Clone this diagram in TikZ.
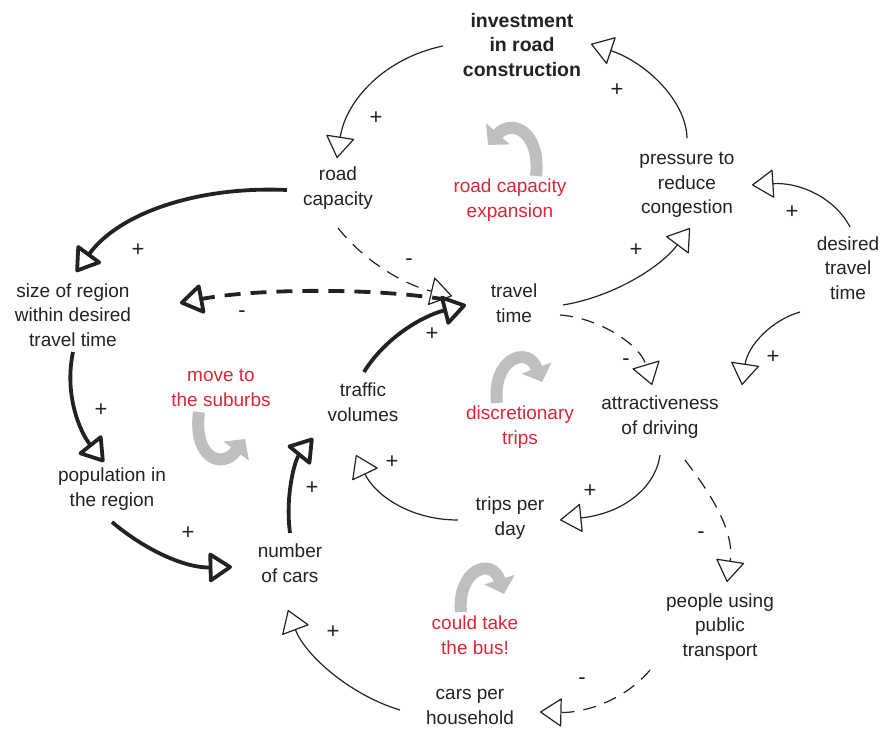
\documentclass[tikz,border=0pt]{standalone}
\usepackage{fontspec}
\setmainfont{Liberation Sans}
\usetikzlibrary{arrows.meta}

\definecolor{ink}{RGB}{34,34,34}
\definecolor{loopred}{RGB}{214,40,57}
\definecolor{loopgray}{RGB}{190,191,193}

\tikzset{
  var/.style={text=ink, align=center, inner sep=0pt, font=\fontsize{19}{24.5}\selectfont},
  keyvar/.style={var, font=\fontsize{19.5}{24.5}\selectfont\bfseries},
  looplabel/.style={var, text=loopred},
  sign/.style={text=ink, inner sep=0pt, font=\fontsize{22}{22}\selectfont},
  link/.style={draw=ink, line width=1.2pt,
    -{Triangle[fill=white, round, length=22pt, width=29pt]}},
  strong/.style={draw=ink, line width=3.8pt,
    -{Triangle[fill=white, round, length=25pt, width=32pt]}},
  opposite/.style={dash pattern=on 13pt off 9pt},
  oppositestrong/.style={dash pattern=on 16pt off 10pt},
  loopturn/.style={draw=loopgray, line width=12pt,
    -{Triangle[length=15pt, width=31pt]}},
}

\begin{document}
\begin{tikzpicture}[x=1pt, y=-1pt]
\useasboundingbox (0,0) rectangle (884,731);

% variables
\node[keyvar] (inv)  at (522,45)  {investment\\in road\\construction};
\node[var]    (rcap) at (338,188) {road\\capacity};
\node[var]    (pres) at (687,185) {pressure to\\reduce\\congestion};
\node[var]    (desi) at (848,268) {desired\\travel\\time};
\node[var]    (size) at (73,315)  {size of region\\within desired\\travel time};
\node[var]    (tt)   at (514,303) {travel\\time};
\node[var]    (traf) at (363,402) {traffic\\volumes};
\node[var]    (attr) at (660,417) {attractiveness\\of driving};
\node[var]    (pop)  at (112,489) {population in\\the region};
\node[var]    (trip) at (510,518) {trips per\\day};
\node[var]    (ncar) at (290,563) {number\\of cars};
\node[var]    (pub)  at (720,627) {people using\\public\\transport};
\node[var]    (cph)  at (470,707) {cars per\\household};

% loop names
\node[looplabel] (rce) at (510,200) {road capacity\\expansion};
\node[looplabel] (mts) at (221,388) {move to\\the suburbs};
\node[looplabel] (dis) at (520,427) {discretionary\\trips};
\node[looplabel] (bus) at (475,635) {could take\\the bus!};

% loop direction marks
\draw[loopturn] (536,176) .. controls (541,132) and (512,118) .. (488,145);
\draw[loopturn] (199,412) .. controls (193,458) and (222,470) .. (245,439);
\draw[loopturn] (497,403) .. controls (492,358) and (528,345) .. (542,382);
\draw[loopturn] (461,612) .. controls (457,570) and (492,556) .. (504,594);

% thin links
\draw[link] ([shift={(-79,1)}]inv.center) .. controls (385,58) and (346,100) .. ([shift={(-1,-30)}]rcap.center);
\draw[link] ([shift={(0,-47)}]pres.center) .. controls (686,100) and (645,62) .. ([shift={(69,-1)}]inv.center);
\draw[link] ([shift={(2,-41)}]desi.center) .. controls (835,198) and (800,182) .. ([shift={(65,0)}]pres.center);
\draw[link] ([shift={(49,2)}]tt.center) .. controls (612,297) and (660,268) .. ([shift={(3,43)}]pres.center);
\draw[link, opposite] ([shift={(0,40)}]rcap.center) .. controls (365,262) and (405,285) .. ([shift={(-62,-7)}]tt.center);
\draw[link, opposite] ([shift={(46,12)}]tt.center) .. controls (600,318) and (640,345) .. ([shift={(-8,-32)}]attr.center);
\draw[link] ([shift={(-48,44)}]desi.center) .. controls (772,320) and (748,345) .. ([shift={(82,-32)}]attr.center);
\draw[link] ([shift={(-52,2)}]trip.center) .. controls (410,520) and (375,495) .. ([shift={(-7,53)}]traf.center);
\draw[link] ([shift={(0,38)}]attr.center) .. controls (655,490) and (620,514) .. ([shift={(50,2)}]trip.center);
\draw[link, opposite] ([shift={(25,43)}]attr.center) .. controls (708,490) and (735,530) .. ([shift={(7,-45)}]pub.center);
\draw[link, opposite] ([shift={(-70,43)}]pub.center) .. controls (625,700) and (585,713) .. ([shift={(70,5)}]cph.center);
\draw[link] ([shift={(-70,3)}]cph.center) .. controls (350,695) and (305,655) .. ([shift={(-2,47)}]ncar.center);

% strong links
\draw[strong] ([shift={(-51,2)}]rcap.center) .. controls (200,186) and (120,212) .. ([shift={(3,-43)}]size.center);
\draw[strong, oppositestrong] ([shift={(-66,-3)}]tt.center) .. controls (380,288) and (260,288) .. ([shift={(107,-12)}]size.center);
\draw[strong] ([shift={(1,-30)}]traf.center) .. controls (385,338) and (422,316) .. ([shift={(-48,2)}]tt.center);
\draw[strong] ([shift={(0,37)}]size.center) .. controls (64,395) and (80,432) .. ([shift={(-8,-27)}]pop.center);
\draw[strong] ([shift={(0,33)}]pop.center) .. controls (145,550) and (185,568) .. ([shift={(-58,4)}]ncar.center);
\draw[strong] ([shift={(0,-30)}]ncar.center) .. controls (285,495) and (295,460) .. ([shift={(-50,36)}]traf.center);

% polarity signs
\node[sign] (s1)  at (376,118) {+};
\node[sign] (s2)  at (617,90)  {+};
\node[sign] (s3)  at (792,212) {+};
\node[sign] (s4)  at (636,250) {+};
\node[sign] (s5)  at (409,262) {-};
\node[sign] (s6)  at (138,250) {+};
\node[sign] (s7)  at (242,314) {-};
\node[sign] (s8)  at (432,334) {+};
\node[sign] (s9)  at (626,362) {-};
\node[sign] (s10) at (773,357) {+};
\node[sign] (s11) at (101,410) {+};
\node[sign] (s12) at (188,533) {+};
\node[sign] (s13) at (312,488) {+};
\node[sign] (s14) at (392,462) {+};
\node[sign] (s15) at (590,491) {+};
\node[sign] (s16) at (701,535) {-};
\node[sign] (s17) at (582,681) {-};
\node[sign] (s18) at (333,632) {+};
\end{tikzpicture}
\end{document}
